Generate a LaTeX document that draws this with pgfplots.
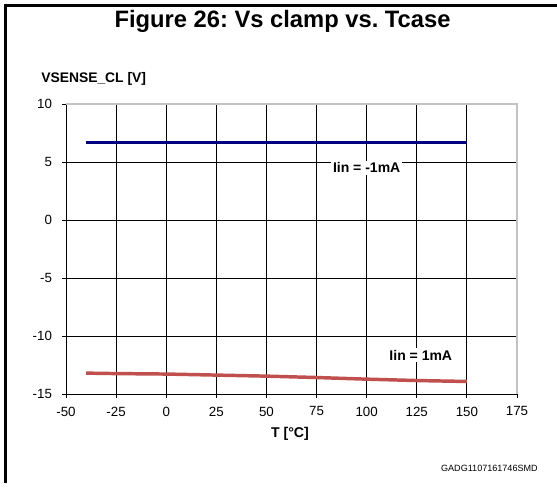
\documentclass[border=0pt]{standalone}
\usepackage{pgfplots}
\pgfplotsset{compat=1.18}
\usepackage{fontspec}
\setmainfont{Liberation Sans}
\frenchspacing
\definecolor{navyline}{RGB}{0,0,128}
\definecolor{redline}{RGB}{192,80,77}
\definecolor{bordergray}{RGB}{195,195,195}
\begin{document}
\begin{tikzpicture}
\useasboundingbox (0,0) rectangle (417.75pt,-366pt);
\draw[line width=1.8pt] (4pt,-362pt) -- (4pt,-4.2pt) -- (417.75pt,-4.2pt);
\node[font=\fontsize{17.8}{21}\selectfont\bfseries, anchor=base, inner sep=0] at (211.9pt,-20.5pt) {Figure 26: Vs clamp vs. Tcase};
\node[font=\fontsize{10.4}{12}\selectfont\bfseries, anchor=base west, inner sep=0] at (30.75pt,-62.25pt) {VSENSE\_CL [V]};
\node[font=\fontsize{10.6}{12}\selectfont\bfseries, anchor=base, inner sep=0] at (217.5pt,-327.75pt) {T [°C]};
\node[font=\fontsize{6.8}{8}\selectfont, anchor=base east, inner sep=0] at (403.5pt,-353.25pt) {GADG1107161746SMD};
\begin{axis}[
  at={(49.5pt,-295.5pt)}, anchor=south west,
  width=338.25pt, height=217.5pt, scale only axis,
  xmin=-50, xmax=175, ymin=-15, ymax=10,
  xtick={-50,-25,...,175}, ytick={-15,-10,...,10},
  axis lines*=left,
  axis line style={-, black, line width=0.7pt},
  tick align=outside, major tick length=3pt,
  tick style={black, line width=0.7pt},
  grid=major, major grid style={black, line width=0.6pt},
  /pgf/number format/assume math mode=true,
  tick label style={font=\fontsize{10}{12}\selectfont},
  xticklabel style={yshift=-3pt},
  yticklabel style={xshift=-4pt},
  clip=false,
]
\addplot[navyline, line width=2.5pt] coordinates {(-40,6.7)(-25,6.7)(0,6.7)(25,6.7)(50,6.7)(75,6.7)(100,6.7)(125,6.7)(150,6.7)};
\addplot[redline, line width=2.6pt] coordinates {(-40,-13.20)(-25,-13.24)(0,-13.28)(25,-13.37)(50,-13.46)(75,-13.58)(100,-13.72)(125,-13.84)(150,-13.92)};
\draw[bordergray, line width=1.5pt] (rel axis cs:0,1) -- (rel axis cs:1,1) -- (rel axis cs:1,0);
\node[fill=white, inner sep=1.5pt, font=\fontsize{10.5}{12}\selectfont\bfseries] at (axis cs:100,4.5) {Iin = -1mA};
\node[fill=white, inner sep=1.5pt, font=\fontsize{10.5}{12}\selectfont\bfseries] at (axis cs:127,-11.66) {Iin = 1mA};
\end{axis}
\end{tikzpicture}
\end{document}
